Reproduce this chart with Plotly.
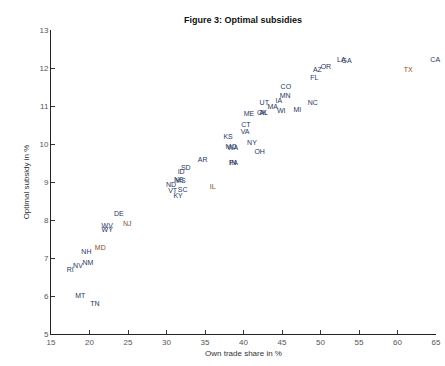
import plotly.graph_objects as go

states = ["MT", "TN", "RI", "NV", "NM", "NH", "MD", "WV", "WY", "DE", "NJ",
          "KY", "VT", "SC", "ND", "MS", "NE", "ID", "SD", "AR", "IL",
          "MO", "WA", "IN", "PA", "OH", "NY", "KS", "VA", "CT", "ME",
          "OK", "AL", "UT", "MA", "IA", "WI", "MN", "CO", "MI", "NC",
          "FL", "AZ", "OR", "LA", "GA", "TX", "CA"]
own_trade_share = [18.8, 20.7, 17.5, 18.5, 19.8, 19.6, 21.4, 22.3, 22.3, 23.8, 24.9,
                   31.5, 30.8, 32.1, 30.6, 31.8, 31.6, 31.9, 32.5, 34.7, 36.0,
                   38.4, 38.6, 38.6, 38.7, 42.1, 41.1, 38.0, 40.2, 40.3, 40.7,
                   42.4, 42.6, 42.7, 43.8, 44.6, 44.9, 45.4, 45.5, 47.0, 49.0,
                   49.2, 49.6, 50.7, 52.7, 53.4, 61.4, 64.9]
optimal_subsidy = [6.00, 5.79, 6.68, 6.79, 6.87, 7.16, 7.26, 7.84, 7.74, 8.16, 7.89,
                   8.63, 8.76, 8.79, 8.92, 9.03, 9.05, 9.26, 9.37, 9.58, 8.87,
                   9.92, 9.90, 9.50, 9.50, 9.79, 10.03, 10.18, 10.32, 10.50, 10.79,
                   10.82, 10.82, 11.08, 10.97, 11.13, 10.87, 11.26, 11.50, 10.89, 11.08,
                   11.74, 11.95, 12.03, 12.21, 12.18, 11.95, 12.21]
highlight = ["MD", "NJ", "IL", "TX"]

colors = ["#8E4A22" if s in highlight else "#283764" for s in states]

x_ticks = [15, 20, 25, 30, 35, 40, 45, 50, 55, 60, 65]
y_ticks = [5, 6, 7, 8, 9, 10, 11, 12, 13]

FONT = "Liberation Sans, Arial, sans-serif"

fig = go.Figure()
fig.add_trace(go.Scatter(
    x=own_trade_share, y=optimal_subsidy, text=states,
    mode="text", textposition="middle center",
    textfont=dict(family=FONT, size=7, color=colors),
    cliponaxis=False, hoverinfo="text", showlegend=False,
))

axis_font = dict(family=FONT, size=8, color="#555555")
fig.update_layout(
    width=445, height=366,
    margin=dict(l=51, r=9, t=30, b=32),
    paper_bgcolor="white", plot_bgcolor="white",
    title=dict(text="<b>Figure 3: Optimal subsidies</b>", x=243 / 445, xanchor="center",
               y=1 - 20 / 366, yanchor="middle", yref="container",
               font=dict(family=FONT, size=9, color="#111111")),
    xaxis=dict(range=[15, 65], tickvals=x_ticks, ticks="inside", ticklen=4,
               tickcolor="#333333", showline=True, linecolor="#222222", linewidth=1,
               showgrid=False, zeroline=False, tickfont=axis_font, automargin=False,
               title=dict(text="Own trade share in %", standoff=4,
                          font=dict(family=FONT, size=8, color="#333333"))),
    yaxis=dict(range=[5, 13], tickvals=y_ticks, ticks="inside", ticklen=4,
               tickcolor="#333333", showline=True, linecolor="#222222", linewidth=1,
               showgrid=False, zeroline=False, tickfont=axis_font, automargin=False,
               title=dict(text="Optimal subsidy in %", standoff=8,
                          font=dict(family=FONT, size=8, color="#333333"))),
)

fig.write_html("out.html", config={"displayModeBar": False},
               post_script="document.body.style.margin='0';document.body.style.overflow='hidden';")
